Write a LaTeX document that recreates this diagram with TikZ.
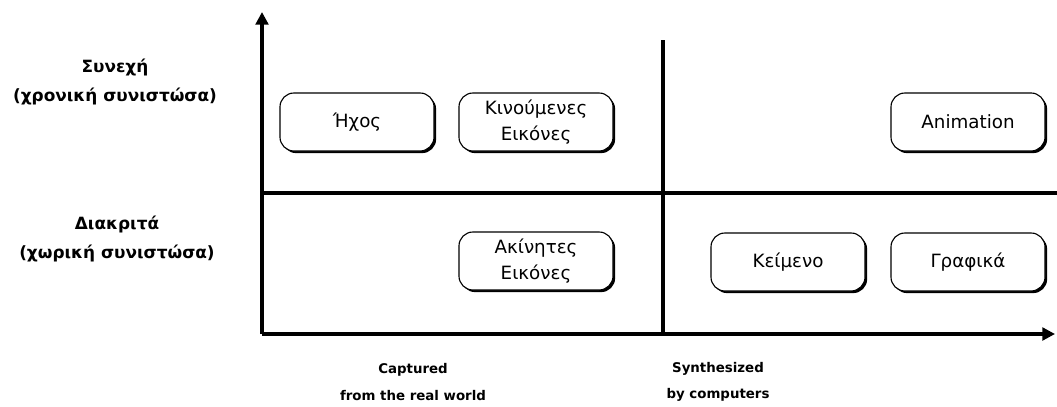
\documentclass[tikz,border=0pt]{standalone}
\usepackage{fontspec}
\setmainfont{DejaVu Sans}
\usetikzlibrary{arrows.meta,shadows}
\tikzset{
  medium/.style={draw, fill=white, line width=0.8pt, rounded corners=0.35cm,
    minimum width=3.85cm, minimum height=1.45cm, align=center,
    font=\fontsize{13}{18}\selectfont,
    drop shadow={shadow xshift=1.5pt, shadow yshift=-1.5pt, fill=black, opacity=1}},
  rowlabel/.style={align=center, font=\bfseries\fontsize{12}{21}\selectfont},
  collabel/.style={align=center, font=\bfseries\fontsize{9.5}{19}\selectfont},
  axis/.style={line width=2.6pt},
  tip/.style={-{Triangle[width=9pt,length=9pt]}}
}
\begin{document}
\begin{tikzpicture}[x=0.025cm,y=-0.025cm]
  \useasboundingbox (0,0) rectangle (1057,407);
  % axes and quadrants
  \coordinate (o) at (262,334);
  \coordinate (ytop) at (262,12);
  \coordinate (xend) at (1055,334);
  \coordinate (mtop) at (663,40);
  \coordinate (mbot) at (663,334);
  \coordinate (hl) at (262,193);
  \coordinate (hr) at (1057,193);
  \draw[axis, tip] (o) -- (ytop);
  \draw[axis, tip] (o) -- (xend);
  \draw[axis] (mbot) -- (mtop);
  \draw[axis] (hl) -- (hr);
  % labels
  \node[rowlabel] (cont) at (115,82) {Συνεχή\\(χρονική συνιστώσα)};
  \node[rowlabel] (disc) at (117,239) {Διακριτά\\(χωρική συνιστώσα)};
  \node[collabel] (capt) at (413,382) {Captured\\from the real world};
  \node[collabel] (synth) at (718,382) {Synthesized\\by computers};
  % media
  \node[medium] (sound) at (357,122) {Ήχος};
  \node[medium] (video) at (536,122) {Κινούμενες\\Εικόνες};
  \node[medium] (anim) at (968,122) {Animation};
  \node[medium] (image) at (536,261) {Ακίνητες\\Εικόνες};
  \node[medium] (text) at (788,262) {Κείμενο};
  \node[medium] (graph) at (968,262) {Γραφικά};
\end{tikzpicture}
\end{document}
